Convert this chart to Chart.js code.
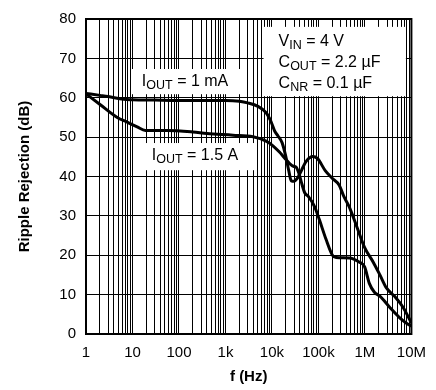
<!DOCTYPE html>
<html>
<head>
<meta charset="utf-8">
<script src="https://cdn.jsdelivr.net/npm/chart.js@4/dist/chart.umd.min.js"></script>
<style>
  html, body { margin: 0; padding: 0; background: #fff; }
  #wrap { width: 436px; height: 390px; }
</style>
</head>
<body>
<div id="wrap"><canvas id="c" width="436" height="390"></canvas></div>
<script>
// Frequency (Hz) and ripple rejection (dB), IOUT = 1 mA
const freq1mA = [1, 2, 3, 6.5, 10, 30, 100, 300, 1000, 2000, 3000, 5000, 7500, 9500, 11500, 13500, 16500, 19500, 23000, 26000, 30000, 35000, 43000, 52000, 62000, 75000, 95000, 140000, 200000, 280000, 350000, 460000, 700000, 1000000, 1500000, 2100000, 2900000, 4400000, 6600000, 10000000];
const rr1mA   = [61.1, 60.6, 60.3, 59.6, 59.5, 59.4, 59.3, 59.3, 59.3, 59.1, 58.7, 57.8, 56.2, 54.0, 51.5, 50.3, 48.6, 45.5, 41.5, 38.9, 38.8, 39.5, 41.5, 43.5, 44.6, 45.1, 44.6, 41.5, 39.5, 37.8, 35.0, 32.3, 26.6, 21.8, 18.3, 15.0, 11.7, 9.5, 6.8, 2.8];

// Frequency (Hz) and ripple rejection (dB), IOUT = 1.5 A
const freq1p5A = [1, 2, 4.7, 7.7, 12.6, 19, 55, 200, 400, 1450, 3900, 7500, 10500, 14500, 18700, 24000, 29000, 33000, 38000, 43000, 51000, 60000, 83000, 105000, 145000, 200000, 240000, 460000, 750000, 980000, 1250000, 1600000, 2100000, 3400000, 5400000, 7700000, 10000000];
const rr1p5A   = [61.0, 58.3, 55.0, 53.8, 52.6, 51.7, 51.7, 51.3, 50.9, 50.5, 50.1, 49.0, 47.8, 46.2, 44.7, 43.3, 42.6, 42.4, 40.8, 38.5, 35.8, 35.0, 32.3, 29.0, 24.1, 20.0, 19.4, 19.3, 18.3, 17.1, 12.8, 10.6, 9.6, 6.8, 4.3, 2.8, 2.0];

// Axis ticks
const xDecades = [1, 10, 100, 1e3, 1e4, 1e5, 1e6, 1e7];
const xTickLabels = ['1', '10', '100', '1k', '10k', '100k', '1M', '10M'];
const yTicks = [0, 10, 20, 30, 40, 50, 60, 70, 80];

// Text notes: [label parts, left x (Hz), baseline y (dB)]
const noteTexts = [
  [[['I'], ['OUT', 1], [' = 1 mA']], 15.9, 62.9],
  [[['I'], ['OUT', 1], [' = 1.5 A']], 26, 44.1],
  [[['V'], ['IN', 1], [' = 4 V']], 13900, 73.1],
  [[['C'], ['OUT', 1], [' = 2.2 \u00B5F']], 13900, 67.8],
  [[['C'], ['NR', 1], [' = 0.1 \u00B5F']], 13900, 62.5]
];
// White backgrounds behind the notes: [x0, x1 (Hz), y0, y1 (dB)]
const noteBoxes = [
  [9.4, 2100, 60.9, 67.3],
  [18.5, 4200, 41.6, 48.5],
  [6600, 7.6e6, 60.4, 78.0]
];

const FONT = '"Liberation Sans", Arial, Helvetica, sans-serif';

const toXY = (fs, vs) => fs.map((f, i) => ({ x: f, y: vs[i] }));

// log grid: 1..9 in each decade
function logGridTicks() {
  const out = [];
  for (let d = 0; d < xDecades.length; d++) {
    const base = xDecades[d];
    if (d === xDecades.length - 1) { out.push({ value: base }); break; }
    for (let m = 1; m <= 9; m++) out.push({ value: base * m });
  }
  return out;
}

const notesAndFrame = {
  id: 'notesAndFrame',
  beforeDatasetsDraw(chart) {
    const { ctx, chartArea: a, scales: { x, y } } = chart;
    ctx.save();
    ctx.fillStyle = '#fff';
    noteBoxes.forEach(b => {
      const l = x.getPixelForValue(b[0]), r = x.getPixelForValue(b[1]);
      const t = y.getPixelForValue(b[3]), bt = y.getPixelForValue(b[2]);
      ctx.fillRect(l, t, r - l, bt - t);
    });
    ctx.fillStyle = '#000';
    ctx.textBaseline = 'alphabetic';
    ctx.textAlign = 'left';
    noteTexts.forEach(n => {
      let px = x.getPixelForValue(n[1]);
      const py = y.getPixelForValue(n[2]);
      n[0].forEach(part => {
        const sub = part[1] === 1;
        ctx.font = (sub ? '12.5px ' : '16px ') + FONT;
        ctx.fillText(part[0], px, py + (sub ? 3 : 0));
        px += ctx.measureText(part[0]).width;
      });
    });
    ctx.strokeStyle = '#000';
    ctx.lineWidth = 2;
    ctx.strokeRect(a.left, a.top, a.right - a.left, a.bottom - a.top);
    ctx.restore();
  }
};

const lineStyle = {
  borderColor: '#000',
  borderWidth: 3,
  pointRadius: 0,
  fill: false,
  cubicInterpolationMode: 'monotone'
};

new Chart(document.getElementById('c'), {
  type: 'line',
  data: {
    datasets: [
      Object.assign({ label: 'IOUT = 1 mA', data: toXY(freq1mA, rr1mA) }, lineStyle),
      Object.assign({ label: 'IOUT = 1.5 A', data: toXY(freq1p5A, rr1p5A) }, lineStyle)
    ]
  },
  options: {
    responsive: false,
    animation: false,
    devicePixelRatio: 1,
    layout: { padding: { top: 11, right: 24, left: 0, bottom: 0 } },
    plugins: { legend: { display: false }, tooltip: { enabled: false } },
    scales: {
      x: {
        type: 'logarithmic',
        min: 1, max: 1e7,
        afterBuildTicks: s => { s.ticks = logGridTicks(); },
        afterFit: s => { s.height = 56; },
        ticks: {
          autoSkip: false, maxRotation: 0, minRotation: 0,
          padding: 10, color: '#000',
          font: { family: FONT, size: 15 },
          callback: v => { const i = xDecades.indexOf(v); return i >= 0 ? xTickLabels[i] : ''; }
        },
        grid: { color: '#000', lineWidth: 1, drawTicks: false },
        border: { display: false },
        title: {
          display: true, text: 'f (Hz)', color: '#000',
          font: { family: FONT, size: 15, weight: 'bold' },
          padding: { top: 0, bottom: 4 }
        }
      },
      y: {
        min: 0, max: 80,
        afterBuildTicks: s => { s.ticks = yTicks.map(v => ({ value: v })); },
        afterFit: s => { s.width = 86; },
        ticks: {
          padding: 10, color: '#000',
          font: { family: FONT, size: 15 }
        },
        grid: { color: '#000', lineWidth: 1, drawTicks: false },
        border: { display: false },
        title: {
          display: true, text: 'Ripple Rejection (dB)', color: '#000',
          font: { family: FONT, size: 15, weight: 'bold' },
          padding: { top: 16, bottom: 0 }
        }
      }
    }
  },
  plugins: [notesAndFrame]
});
</script>
</body>
</html>
